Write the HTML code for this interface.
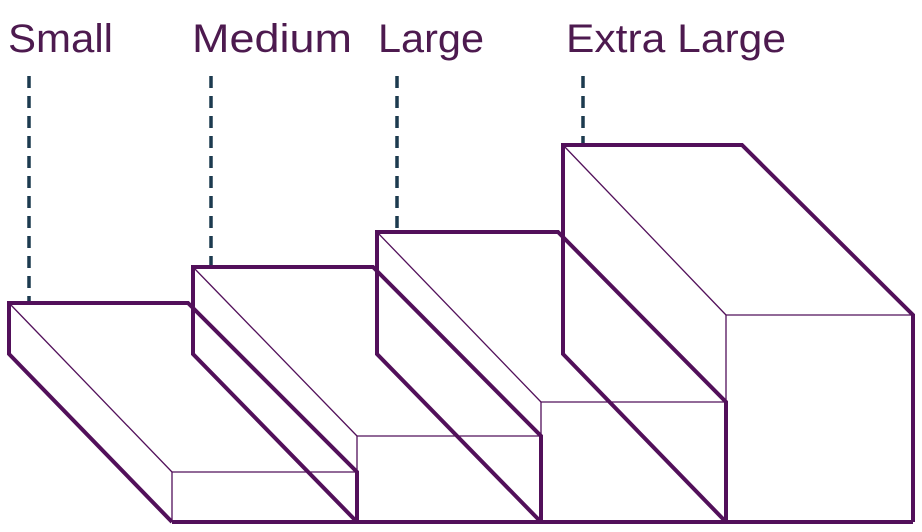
<!DOCTYPE html>
<html><head><meta charset="utf-8"><style>body{margin:0;background:#fff}svg{display:block}</style></head><body>
<svg width="922" height="532" viewBox="0 0 922 532" xmlns="http://www.w3.org/2000/svg">
<g font-family="Liberation Sans, sans-serif" font-size="40" fill="#4d1a4f">
<text x="8" y="52" textLength="105" lengthAdjust="spacingAndGlyphs">Small</text>
<text x="192" y="52" textLength="160" lengthAdjust="spacingAndGlyphs">Medium</text>
<text x="378" y="52" textLength="106" lengthAdjust="spacingAndGlyphs">Large</text>
<text x="566" y="52" textLength="220" lengthAdjust="spacingAndGlyphs">Extra Large</text>
</g>
<g stroke="#1c3a4f" stroke-width="3.5" stroke-dasharray="12 8">
<line x1="29" y1="76" x2="29" y2="303"/>
<line x1="211" y1="76" x2="211" y2="267"/>
<line x1="397" y1="76" x2="397" y2="232"/>
<line x1="583" y1="76" x2="583" y2="145"/>
</g>
<g stroke="#52105a" fill="none" stroke-width="1.3">
<line x1="9" y1="303" x2="172" y2="472"/><polyline points="172,522 172,472 357,472"/>
<line x1="193" y1="267" x2="357" y2="436"/><polyline points="357,522 357,436 541,436"/>
<line x1="377" y1="232" x2="541" y2="402"/><polyline points="541,522 541,402 726,402"/>
<line x1="563" y1="145" x2="726" y2="315"/><polyline points="726,522 726,315 913,315"/>
</g>
<g stroke="#52105a" fill="none" stroke-width="4" stroke-linejoin="miter">
<polyline points="172,522 9,354 9,303 188,303 357,472 357,522"/>
<polyline points="357,522 193,354 193,267 373,267 541,436 541,522"/>
<polyline points="541,522 377,354 377,232 558,232 726,402 726,522"/>
<polyline points="726,522 563,354 563,145 742,145 913,315 913,522"/>
<line x1="172" y1="522" x2="913" y2="522"/>
</g>
</svg>
</body></html>
